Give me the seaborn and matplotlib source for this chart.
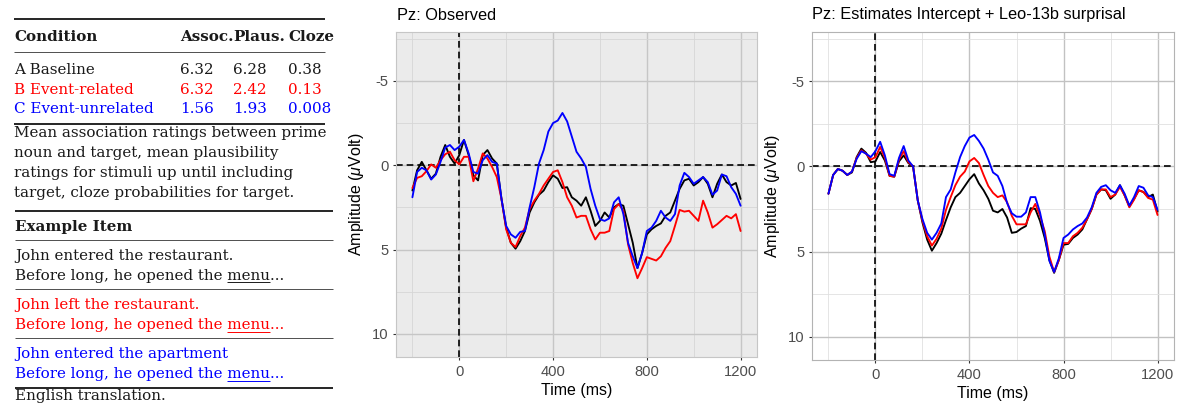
import numpy as np
import pandas as pd
import matplotlib
matplotlib.use("Agg")
import matplotlib.pyplot as plt
import seaborn as sns

# ---------------- data ----------------
time_ms = list(range(-200, 1201, 20))

obs_A = [1.5, 0.3, -0.2, 0.3, 0.8, 0.5, -0.5, -1.2, -0.5, -0.1,
         -0.6, -1.5, -0.6, 0.6, 0.9, -0.6, -0.9, -0.4, -0.1, 2.0,
         3.7, 4.6, 4.95, 4.5, 3.9, 2.8, 2.2, 1.75, 1.5, 1.0,
         0.6, 0.8, 1.35, 1.3, 1.9, 2.1, 2.4, 1.9, 2.7, 3.6,
         3.3, 2.8, 3.1, 2.5, 2.3, 2.4, 3.5, 4.6, 6.1, 5.2,
         4.1, 3.8, 3.6, 3.45, 3.0, 2.8, 2.1, 1.4, 0.9, 0.8,
         1.2, 1.0, 0.7, 1.1, 1.9, 1.1, 0.55, 1.0, 1.2, 1.05, 2.0]
obs_B = [1.35, 0.75, 0.65, 0.35, -0.05, 0.15, -0.3, -0.65, -0.8, -0.3,
         -0.05, -0.5, -0.5, 0.95, 0.2, -0.7, -0.4, 0.1, 0.7, 2.0,
         3.8, 4.6, 4.85, 4.2, 3.7, 2.6, 2.1, 1.7, 1.2, 0.8,
         0.4, 0.3, 1.0, 1.9, 2.4, 3.1, 3.0, 3.0, 3.8, 4.4,
         4.0, 4.0, 3.9, 2.6, 2.3, 2.7, 4.7, 5.8, 6.7, 6.1,
         5.45, 5.55, 5.65, 5.4, 4.9, 4.5, 3.6, 2.65, 2.75, 2.7,
         3.0, 3.3, 2.1, 2.8, 3.7, 3.5, 3.25, 3.0, 3.15, 2.9, 3.9]
obs_C = [1.9, 0.4, 0.15, 0.3, 0.85, 0.55, -0.2, -1.05, -1.2, -0.9,
         -1.1, -1.5, -0.7, 0.4, 0.5, -0.3, -0.6, -0.2, -0.1, 2.0,
         3.6, 4.1, 4.3, 3.95, 3.9, 2.5, 1.3, -0.1, -0.9, -2.0,
         -2.5, -2.65, -3.1, -2.6, -1.7, -0.8, -0.4, 0.1, 1.4, 2.4,
         3.2, 3.3, 3.15, 2.2, 1.9, 2.9, 4.6, 5.4, 6.1, 5.2,
         3.9, 3.7, 3.3, 2.7, 3.1, 3.3, 2.9, 1.2, 0.45, 0.7,
         1.1, 0.9, 0.7, 1.0, 1.75, 1.5, 0.55, 0.65, 1.3, 1.7, 2.4]

est_A = [1.6, 0.5, 0.15, 0.25, 0.5, 0.35, -0.55, -1.05, -0.8, -0.25,
         -0.3, -0.85, -0.35, 0.55, 0.6, -0.3, -0.65, -0.2, 0.0, 2.0,
         3.3, 4.3, 4.95, 4.5, 3.95, 3.15, 2.4, 1.8, 1.55, 1.15,
         0.75, 0.45, 1.0, 1.4, 1.9, 2.6, 2.7, 2.5, 3.0, 3.9,
         3.85, 3.65, 3.5, 2.45, 2.5, 3.2, 4.2, 5.5, 6.25, 5.5,
         4.6, 4.55, 4.2, 4.0, 3.7, 3.1, 2.5, 1.65, 1.35, 1.4,
         1.9, 1.65, 1.1, 1.7, 2.35, 1.9, 1.4, 1.5, 1.8, 1.65, 2.65]
est_B = [1.6, 0.5, 0.15, 0.25, 0.5, 0.3, -0.5, -0.95, -0.75, -0.4,
         -0.55, -1.15, -0.5, 0.55, 0.6, -0.4, -0.9, -0.25, 0.0, 2.0,
         3.2, 4.1, 4.65, 4.25, 3.65, 2.55, 1.8, 1.1, 0.6, 0.3,
         -0.3, -0.5, -0.2, 0.5, 1.15, 1.55, 1.8, 1.7, 2.1, 2.9,
         3.4, 3.4, 3.4, 2.7, 2.2, 2.9, 3.8, 5.3, 6.2, 5.5,
         4.5, 4.5, 4.1, 3.9, 3.6, 3.1, 2.5, 1.65, 1.35, 1.35,
         1.8, 1.65, 1.2, 1.7, 2.4, 1.95, 1.4, 1.5, 1.85, 1.95, 2.85]
est_C = [1.6, 0.5, 0.15, 0.25, 0.5, 0.3, -0.45, -0.9, -0.75, -0.55,
         -0.9, -1.45, -0.65, 0.45, 0.55, -0.5, -1.2, -0.35, 0.0, 2.0,
         3.1, 3.9, 4.3, 3.9, 3.35, 1.8, 1.35, 0.35, -0.55, -1.2,
         -1.7, -1.85, -1.5, -1.05, -0.4, 0.35, 0.55, 1.15, 2.15, 2.75,
         2.95, 2.95, 2.7, 1.8, 1.8, 2.7, 4.0, 5.55, 6.2, 5.4,
         4.2, 4.0, 3.7, 3.5, 3.35, 3.0, 2.4, 1.55, 1.2, 1.1,
         1.4, 1.55, 1.1, 1.6, 2.3, 1.8, 1.15, 1.25, 1.7, 1.8, 2.55]

conditions = ["A", "B", "C"]
cond_colors = {"A": "black", "B": "red", "C": "blue"}
x_major = [0, 400, 800, 1200]
x_minor = [-200, 200, 600, 1000]
y_major = [-5, 0, 5, 10]
y_minor = [-7.5, -2.5, 2.5, 7.5]

table_header = ["Condition", "Assoc.", "Plaus.", "Cloze"]
table_rows = [["A Baseline", "6.32", "6.28", "0.38"],
              ["B Event-related", "6.32", "2.42", "0.13"],
              ["C Event-unrelated", "1.56", "1.93", "0.008"]]
caption_lines = ["Mean association ratings between prime",
                 "noun and target, mean plausibility",
                 "ratings for stimuli up until including",
                 "target, cloze probabilities for target."]
example_first = ["John entered the restaurant.",
                 "John left the restaurant.",
                 "John entered the apartment"]
example_second = "Before long, he opened the "
example_target = "menu"

# ---------------- style ----------------
sns.set_theme(style="white")
plt.rcParams["font.family"] = ["Liberation Sans", "DejaVu Sans"]
plt.rcParams["axes.unicode_minus"] = False
plt.rcParams["mathtext.fontset"] = "custom"
plt.rcParams["mathtext.it"] = "Liberation Sans:italic"
plt.rcParams["mathtext.rm"] = "Liberation Sans"

W, H = 1177, 403
fig = plt.figure(figsize=(W / 100, H / 100), dpi=100)


def long_df(a, b, c):
    n = len(time_ms)
    return pd.DataFrame({"time": time_ms * 3,
                         "amp": a + b + c,
                         "cond": ["A"] * n + ["B"] * n + ["C"] * n})


def draw_panel(rect, df, bg, major_c, minor_c, border_c, title, title_xy):
    ax = fig.add_axes(rect)
    ax.set_facecolor(bg)
    sns.lineplot(data=df, x="time", y="amp", hue="cond", hue_order=conditions,
                 palette=cond_colors, estimator=None, linewidth=1.35,
                 legend=False, ax=ax)
    ax.set_xlim(-270, 1270)
    ax.set_ylim(11.37, -7.9)
    ax.set_xticks(x_major)
    ax.set_xticks(x_minor, minor=True)
    ax.set_yticks(y_major)
    ax.set_yticks(y_minor, minor=True)
    ax.set_xticklabels([str(v) for v in x_major])
    ax.set_yticklabels([str(v) for v in y_major])
    ax.grid(which="major", color=major_c, linewidth=1.0)
    ax.grid(which="minor", color=minor_c, linewidth=0.6)
    ax.set_axisbelow(True)
    ax.axhline(0, color="black", linestyle=(0, (4, 2.4)), linewidth=1.2, zorder=1.5)
    ax.axvline(0, color="black", linestyle=(0, (4, 2.4)), linewidth=1.2, zorder=1.5)
    ax.tick_params(which="major", length=2.5, width=0.8, color="#333333",
                   labelcolor="#4D4D4D", labelsize=10.6, pad=3,
                   bottom=True, left=True)
    ax.tick_params(which="minor", length=0)
    for s in ax.spines.values():
        s.set_color(border_c)
        s.set_linewidth(0.8)
    ax.set_xlabel("Time (ms)", fontsize=11.5, labelpad=3, color="black")
    ax.set_ylabel(r"Amplitude ($\mu$Volt)", fontsize=11.5, labelpad=4, color="black")
    fig.text(title_xy[0] / W, 1 - title_xy[1] / H, title, ha="left", va="center",
             fontsize=11.8, color="black")
    return ax


draw_panel([396 / W, 1 - 357 / H, 361 / W, 325 / H], long_df(obs_A, obs_B, obs_C),
           "#EBEBEB", "#C6C6C6", "#D6D6D6", "#C6C6C6", "Pz: Observed", (397, 15))
draw_panel([812 / W, 1 - 360 / H, 362 / W, 328 / H], long_df(est_A, est_B, est_C),
           "white", "#C2C2C2", "#E0E0E0", "#B3B3B3",
           "Pz: Estimates Intercept + Leo-13b surprisal", (812, 15))

# ---------------- table (left) ----------------
axT = fig.add_axes([0, 0, 340 / W, 1])
axT.set_xlim(0, 340)
axT.set_ylim(H, 0)
axT.axis("off")
serif = ["DejaVu Serif"]
fs = 10.9
row_colors = ["#1A1A1A", "red", "blue"]


def rule(y, x0, x1, lw, c="black"):
    axT.plot([x0, x1], [y, y], color=c, linewidth=lw, solid_capstyle="butt")


rule(19.3, 14, 325, 1.2)
col_x = [14, 180, 233, 288]
for x, h in zip(col_x, table_header):
    axT.text(x, 40.7, h, family=serif, fontsize=fs, fontweight="bold",
             ha="left", va="baseline", color="#1A1A1A")
rule(51.7, 14, 325, 0.6, "#333333")
for row, yb, c in zip(table_rows, [74, 93.7, 113.3], row_colors):
    for x, v in zip(col_x, row):
        axT.text(x, yb, v, family=serif, fontsize=fs, ha="left", va="baseline", color=c)
rule(124.3, 14, 325, 1.2)
for line, yb in zip(caption_lines, [137.3, 157.3, 176.7, 196.7]):
    axT.text(14, yb, line, family=serif, fontsize=fs, ha="left", va="baseline", color="#1A1A1A")
rule(210.5, 15, 333, 1.2)
axT.text(15, 230.7, "Example Item", family=serif, fontsize=fs, fontweight="bold",
         ha="left", va="baseline", color="#1A1A1A")
rule(240, 15, 333, 0.6, "#333333")

fig.canvas.draw()
renderer = fig.canvas.get_renderer()
inv = axT.transData.inverted()


def text_width(s):
    t = axT.text(0, 0, s, family=serif, fontsize=fs, ha="left", va="baseline")
    bb = t.get_window_extent(renderer)
    t.remove()
    return abs(inv.transform((bb.x1, 0))[0] - inv.transform((bb.x0, 0))[0])


w_full = text_width(example_second + example_target)
w_target = text_width(example_target)
block_base = [(260, 280), (309.3, 329.3), (357.7, 378.3)]
for (y1, y2), first, c in zip(block_base, example_first, row_colors):
    axT.text(15, y1, first, family=serif, fontsize=fs, ha="left", va="baseline", color=c)
    axT.text(15, y2, example_second + example_target + "...", family=serif, fontsize=fs,
             ha="left", va="baseline", color=c)
    rule(y2 + 2.2, 15 + w_full - w_target, 15 + w_full, 0.7, c)
rule(289, 15, 333, 0.6, "#333333")
rule(337.7, 15, 333, 0.6, "#333333")
rule(387.7, 15, 333, 1.2)
axT.text(15, 400, "English translation.", family=serif, fontsize=fs, ha="left",
         va="baseline", color="#1A1A1A")

fig.savefig("out.png", dpi=100)
